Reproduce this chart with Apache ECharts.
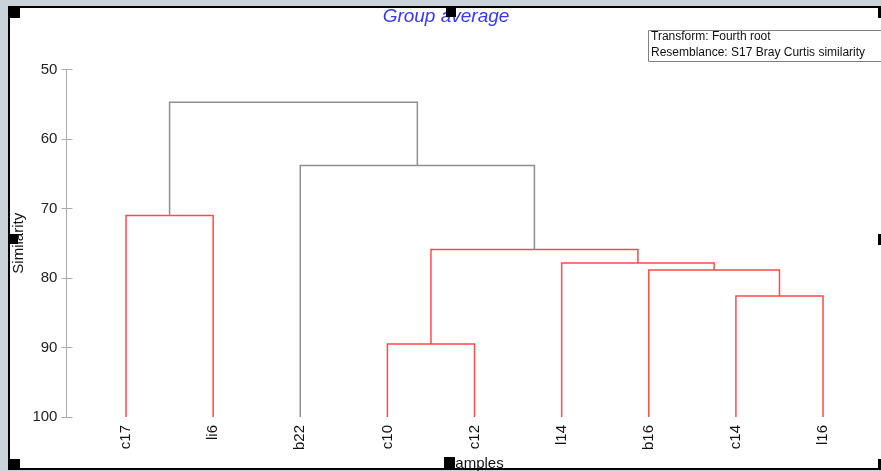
<!DOCTYPE html>
<html>
<head>
<meta charset="utf-8">
<script src="https://cdn.jsdelivr.net/npm/echarts@6/dist/echarts.min.js"></script>
<style>
  html, body { margin: 0; padding: 0; background: #c9d3d9; }
  #chart { width: 881px; height: 471px; }
</style>
</head>
<body>
<div id="chart"></div>
<script>
// Samples in dendrogram leaf order
const samples = ['c17', 'li6', 'b22', 'c10', 'c12', 'l14', 'b16', 'c14', 'l16'];

// Agglomeration steps: ids 0-8 are samples, id 9+k is the cluster formed at step k
const mergeLeft  = [0, 3, 7, 6, 5, 10, 2, 9];
const mergeRight = [1, 4, 8, 11, 12, 13, 14, 15];
const mergeSimilarity = [71.0, 89.5, 82.6, 78.85, 77.85, 75.9, 63.8, 54.7];
// true where the merge lies inside a SIMPROF homogeneous group
const mergeInGroup = [true, true, true, true, true, true, false, false];

// Similarity axis
const simMin = 50, simMax = 100, simStep = 10;

// Node positions: leaves at their order index, clusters midway between children
const nodeX = samples.map((_, i) => i);
const nodeH = samples.map(() => simMax);
const links = [];
mergeLeft.forEach((l, k) => {
  const r = mergeRight[k];
  const h = mergeSimilarity[k];
  links.push([nodeX[l], nodeX[r], h, nodeH[l], nodeH[r], mergeInGroup[k] ? 1 : 0]);
  nodeX.push((nodeX[l] + nodeX[r]) / 2);
  nodeH.push(h);
});

const FONT = 'Liberation Sans, Arial, sans-serif';
const chart = echarts.init(document.getElementById('chart'));

chart.setOption({
  animation: false,
  backgroundColor: 'transparent',
  grid: { left: 82.44, right: 14.4, top: 69.5, bottom: 54, containLabel: false, outerBoundsMode: 'none' },
  xAxis: [
    {
      type: 'category',
      data: samples,
      boundaryGap: true,
      position: 'bottom',
      axisLine: { show: false },
      axisTick: { show: false },
      splitLine: { show: false },
      axisLabel: { rotate: 90, margin: 8, fontSize: 15, color: '#111', fontFamily: FONT, interval: 0 },
      name: 'Samples',
      nameLocation: 'middle',
      nameMoveOverlap: false,
      nameGap: 39,
      nameTextStyle: { fontSize: 15, color: '#111', fontFamily: FONT }
    },
    {
      type: 'value',
      min: -0.5,
      max: samples.length - 0.5,
      show: false
    }
  ],
  yAxis: [
    {
      type: 'value',
      position: 'left',
      inverse: true,
      min: simMin, max: simMax, interval: simStep,
      offset: 16,
      axisLine: { show: true, onZero: false, lineStyle: { color: '#aaaaaa', width: 1 } },
      axisTick: { show: true, inside: false, length: 5, lineStyle: { color: '#aaaaaa' } },
      splitLine: { show: false },
      axisLabel: { margin: 9, fontSize: 15, color: '#222', fontFamily: FONT },
      name: 'Similarity',
      nameLocation: 'middle',
      nameMoveOverlap: false,
      nameGap: 40,
      nameTextStyle: { fontSize: 15, color: '#111', fontFamily: FONT }
    },
    {
      type: 'value',
      position: 'left',
      inverse: true,
      min: simMin, max: simMax, interval: simStep,
      offset: 16,
      axisLine: { show: false, onZero: false },
      axisTick: { show: true, inside: true, length: 6, lineStyle: { color: '#aaaaaa' } },
      axisLabel: { show: false },
      splitLine: { show: false }
    }
  ],
  series: [{
    type: 'custom',
    xAxisIndex: 1,
    yAxisIndex: 0,
    data: links,
    encode: { x: [0, 1], y: [2, 3, 4] },
    renderItem: function (params, api) {
      const xl = api.value(0), xr = api.value(1);
      const h = api.value(2), hl = api.value(3), hr = api.value(4);
      const p1 = api.coord([xl, hl]);
      const p2 = api.coord([xl, h]);
      const p3 = api.coord([xr, h]);
      const p4 = api.coord([xr, hr]);
      return {
        type: 'polyline',
        shape: { points: [p1, p2, p3, p4] },
        style: {
          fill: null,
          stroke: api.value(5) ? '#ff4a4a' : '#8f8f8f',
          lineWidth: 1.5
        }
      };
    }
  }],
  graphic: [
    // white plot sheet with black frame
    { type: 'rect', z: -10, shape: { x: 9, y: 7, width: 880, height: 462 },
      style: { fill: '#ffffff', stroke: '#000000', lineWidth: 2 } },
    // title
    { type: 'text', x: 446, y: 17,
      style: { text: 'Group average', font: 'italic 19px ' + FONT, fill: '#3838f8',
               textAlign: 'center', textVerticalAlign: 'middle' } },
    // info box
    { type: 'rect', shape: { x: 648.5, y: 30.5, width: 240, height: 31 },
      style: { fill: '#ffffff', stroke: '#808080', lineWidth: 1 } },
    { type: 'text', x: 651, y: 37,
      style: { text: 'Transform: Fourth root', font: '12px ' + FONT, fill: '#111',
               textAlign: 'left', textVerticalAlign: 'middle' } },
    { type: 'text', x: 651, y: 53,
      style: { text: 'Resemblance: S17 Bray Curtis similarity', font: '12px ' + FONT, fill: '#111',
               textAlign: 'left', textVerticalAlign: 'middle' } },
    // selection handles on the frame
    { type: 'rect', z: 100, shape: { x: 8, y: 7, width: 12, height: 11 }, style: { fill: '#000' } },
    { type: 'rect', z: 100, shape: { x: 446, y: 7, width: 10, height: 10 }, style: { fill: '#000' } },
    { type: 'rect', z: 100, shape: { x: 878, y: 7, width: 4, height: 11 }, style: { fill: '#000' } },
    { type: 'rect', z: 100, shape: { x: 9, y: 234, width: 9, height: 10 }, style: { fill: '#000' } },
    { type: 'rect', z: 100, shape: { x: 878, y: 234, width: 4, height: 11 }, style: { fill: '#000' } },
    { type: 'rect', z: 100, shape: { x: 8, y: 459, width: 12, height: 11 }, style: { fill: '#000' } },
    { type: 'rect', z: 100, shape: { x: 444, y: 457, width: 11, height: 13 }, style: { fill: '#000' } },
    { type: 'rect', z: 100, shape: { x: 878, y: 459, width: 4, height: 11 }, style: { fill: '#000' } }
  ]
});
</script>
</body>
</html>
